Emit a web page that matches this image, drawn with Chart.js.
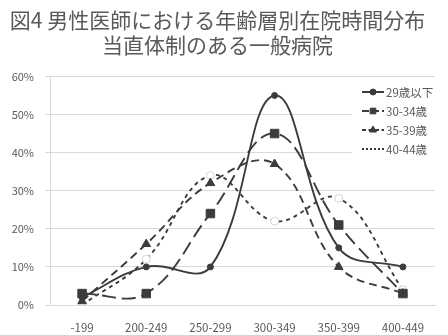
<!DOCTYPE html>
<html>
<head>
<meta charset="utf-8">
<script src="https://cdn.jsdelivr.net/npm/chart.js@4/dist/chart.umd.min.js"></script>
<style>
  html, body { margin: 0; padding: 0; background: #ffffff; }
  #wrap { width: 448px; height: 335px; position: relative; }
</style>
</head>
<body>
<div id="wrap"><canvas id="c"></canvas></div>
<script>
// Hours-in-hospital bands and share of male doctors per age group (%)
const categories = ['-199', '200-249', '250-299', '300-349', '350-399', '400-449'];
const seriesNames = ['29歳以下', '30-34歳', '35-39歳', '40-44歳'];
const age29 = [2, 10, 10, 55, 15, 10];
const age30 = [3, 3, 24, 45, 21, 3];
const age35 = [1, 16, 32, 37, 10, 3];
const age40 = [0, 12, 34, 22, 28, 4];
const yTicks = [0, 10, 20, 30, 40, 50, 60];
const titleLines = ['図4 男性医師における年齢層別在院時間分布', '当直体制のある一般病院'];

const FONT = '"Noto Sans CJK JP", "Noto Sans", sans-serif';
const TEXT = '#595959';
const GRID = '#d9d9d9';
const INK = '#3c3c3c';

const styles = [
  { dash: [], pointStyle: 'circle', radius: 3, bg: INK, border: INK, legendMark: true },
  { dash: [14, 6], pointStyle: 'rect', radius: 6, bg: INK, border: INK, legendMark: true },
  { dash: [8, 5], pointStyle: 'triangle', radius: 5, bg: INK, border: INK, legendMark: true },
  { dash: [4, 4], pointStyle: 'circle', radius: 4, bg: '#ffffff', border: '#d4d4d4', legendMark: false }
];

const values = [age29, age30, age35, age40];
const datasets = values.map((data, i) => ({
  label: seriesNames[i],
  data: data,
  borderColor: INK,
  borderWidth: 1.9,
  borderDash: styles[i].dash,
  tension: 0.4,
  fill: false,
  pointStyle: styles[i].pointStyle,
  pointRadius: styles[i].radius,
  pointBackgroundColor: styles[i].bg,
  pointBorderColor: styles[i].border,
  pointBorderWidth: 1
}));

// Vertical legend drawn at the upper right, over the gridlines
const sideLegend = {
  id: 'sideLegend',
  afterDraw(chart) {
    const ctx = chart.ctx;
    ctx.save();
    ctx.fillStyle = '#ffffff';
    ctx.fillRect(352, 82, 96, 76);
    const rows = [92, 111, 130, 149];
    chart.data.datasets.forEach((ds, i) => {
      const y = rows[i];
      ctx.strokeStyle = ds.borderColor;
      ctx.lineWidth = 2;
      ctx.setLineDash(ds.borderDash.length ? ds.borderDash.map(v => v * 0.5) : []);
      ctx.beginPath();
      ctx.moveTo(362, y);
      ctx.lineTo(384, y);
      ctx.stroke();
      ctx.setLineDash([]);
      if (styles[i].legendMark) {
        ctx.fillStyle = ds.pointBackgroundColor;
        ctx.strokeStyle = ds.pointBorderColor;
        ctx.lineWidth = 1;
        Chart.helpers.drawPoint(ctx, {
          pointStyle: ds.pointStyle,
          radius: Math.min(ds.pointRadius, 4),
          rotation: 0,
          borderWidth: 1
        }, 373, y);
      }
      ctx.fillStyle = TEXT;
      ctx.font = '11.5px ' + FONT;
      ctx.textAlign = 'left';
      ctx.textBaseline = 'middle';
      ctx.fillText(ds.label, 386, y + 1);
    });
    ctx.restore();
  }
};

new Chart(document.getElementById('c'), {
  type: 'line',
  data: { labels: categories, datasets: datasets },
  plugins: [sideLegend],
  options: {
    responsive: true,
    maintainAspectRatio: false,
    animation: false,
    devicePixelRatio: 1,
    layout: { padding: { left: 0, right: 13, top: 0, bottom: 0 } },
    plugins: {
      legend: { display: false },
      tooltip: { enabled: false },
      title: {
        display: true,
        text: titleLines,
        color: TEXT,
        font: { family: FONT, size: 21, weight: 'normal', lineHeight: 1.2 },
        padding: { top: 7, bottom: 19 }
      }
    },
    scales: {
      x: {
        offset: true,
        grid: { display: false },
        border: { display: true, color: GRID, width: 1 },
        ticks: { color: TEXT, font: { family: FONT, size: 11.5 }, padding: 8, maxRotation: 0, autoSkip: false },
        afterFit(scale) { scale.height = 30; }
      },
      y: {
        min: yTicks[0],
        max: yTicks[yTicks.length - 1],
        afterBuildTicks(scale) { scale.ticks = yTicks.map(v => ({ value: v })); },
        grid: { color: GRID, lineWidth: 1, drawTicks: true, tickLength: 5, tickColor: GRID },
        border: { display: true, color: GRID, width: 1 },
        ticks: {
          color: TEXT,
          font: { family: FONT, size: 11 },
          padding: 11,
          callback: v => v + '%'
        },
        afterFit(scale) { scale.width = 50; }
      }
    }
  }
});
</script>
</body>
</html>
